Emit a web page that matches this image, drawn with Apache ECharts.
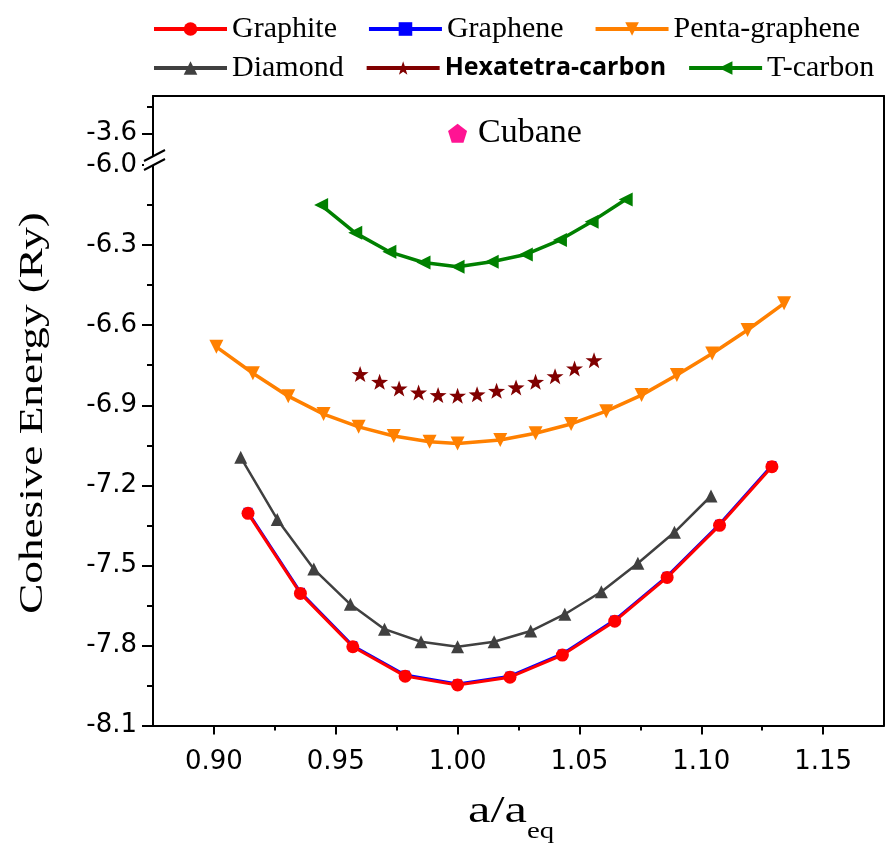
<!DOCTYPE html>
<html>
<head>
<meta charset="utf-8">
<title>Cohesive energy vs a/a_eq</title>
<script src="https://cdn.jsdelivr.net/npm/echarts@6/dist/echarts.min.js"></script>
<style>
  html, body { margin: 0; padding: 0; background: #fff; }
  #chart { width: 886px; height: 847px; }
</style>
</head>
<body>
<div id="chart"></div>
<script>
// x = a/a_eq, y = cohesive energy (Ry)
const graphiteX = [0.914, 0.9355, 0.957, 0.9785, 1.0, 1.0215, 1.043, 1.0645, 1.086, 1.1075, 1.129];
const graphiteY = [-7.305, -7.605, -7.805, -7.915, -7.948, -7.919, -7.836, -7.709, -7.545, -7.350, -7.130];
const grapheneX = [0.914, 0.9355, 0.957, 0.9785, 1.0, 1.0215, 1.043, 1.0645, 1.086, 1.1075, 1.129];
const grapheneY = [-7.301, -7.601, -7.801, -7.911, -7.944, -7.915, -7.832, -7.705, -7.541, -7.346, -7.126];
const pentaX = [0.901, 0.916, 0.9305, 0.945, 0.9594, 0.9738, 0.9885, 1.0, 1.0175, 1.032, 1.0466, 1.061, 1.0755, 1.090, 1.1045, 1.119, 1.134];
const pentaY = [-6.681, -6.780, -6.866, -6.933, -6.981, -7.015, -7.037, -7.043, -7.030, -7.005, -6.970, -6.922, -6.862, -6.787, -6.706, -6.618, -6.518];
const diamondX = [0.911, 0.926, 0.941, 0.956, 0.970, 0.985, 1.0, 1.015, 1.030, 1.044, 1.059, 1.074, 1.089, 1.104];
const diamondY = [-7.095, -7.328, -7.514, -7.646, -7.739, -7.786, -7.805, -7.786, -7.746, -7.683, -7.599, -7.492, -7.376, -7.240];
const hexaX = [0.960, 0.968, 0.976, 0.984, 0.992, 1.0, 1.008, 1.016, 1.024, 1.032, 1.040, 1.048, 1.056];
const hexaY = [-6.783, -6.812, -6.837, -6.852, -6.862, -6.864, -6.859, -6.846, -6.833, -6.812, -6.791, -6.762, -6.731];
const tcarbonX = [0.944, 0.958, 0.972, 0.986, 1.0, 1.014, 1.028, 1.042, 1.055, 1.069];
const tcarbonY = [-6.150, -6.254, -6.325, -6.365, -6.381, -6.362, -6.335, -6.281, -6.212, -6.129];
const cubaneX = [1.0];
const cubaneY = [-3.6];

// axis ticks
const xMajor = [0.90, 0.95, 1.00, 1.05, 1.10, 1.15];
const xMinor = [0.925, 0.975, 1.025, 1.075, 1.125];
const yMajor = [-8.1, -7.8, -7.5, -7.2, -6.9, -6.6, -6.3, -6.0];
const yMinor = [-7.95, -7.65, -7.35, -7.05, -6.75, -6.45, -6.15];
const yTopMajor = [-3.6];
const yTopMinor = [-3.5];

const pairs = (xs, ys) => xs.map((x, i) => [x, ys[i]]);

const starPath = 'path://M0,-10 L2.35,-3.24 L9.51,-3.09 L3.80,1.24 L5.88,8.09 L0,4 L-5.88,8.09 L-3.80,1.24 L-9.51,-3.09 L-2.35,-3.24 Z';
const pentagonPath = 'path://M0,-10 L9.51,-3.09 L5.88,8.09 L-5.88,8.09 L-9.51,-3.09 Z';

const tickFont = { fontFamily: 'DejaVu Sans', fontSize: 26, color: '#000' };
const blackLine = { lineStyle: { color: '#000', width: 2 } };

const chart = echarts.init(document.getElementById('chart'), null, { renderer: 'canvas' });

const option = {
  animation: false,
  backgroundColor: '#fff',
  legend: [
    {
      data: ['Graphite', 'Graphene', 'Penta-graphene'],
      left: 152, top: 14, padding: 0,
      itemWidth: 73, itemHeight: 17, itemGap: 30,
      selectedMode: false,
      lineStyle: { width: 4 },
      textStyle: { fontFamily: 'Liberation Serif', fontSize: 30, color: '#000' }
    },
    {
      data: [
        'Diamond',
        {
          name: 'Hexatetra-carbon',
          lineStyle: { color: '#800000', opacity: 1, width: 4 },
          textStyle: { fontFamily: 'Open Sans', fontWeight: 'bold', fontSize: 25, color: '#000' }
        },
        'T-carbon'
      ],
      left: 152, top: 53, padding: 0,
      itemWidth: 73, itemHeight: 17, itemGap: 21,
      selectedMode: false,
      lineStyle: { width: 4 },
      textStyle: { fontFamily: 'Liberation Serif', fontSize: 30, color: '#000' }
    }
  ],
  grid: [
    { left: 153, right: 2, top: 96, height: 56 },
    { left: 153, right: 2, top: 152, bottom: 121.5 }
  ],
  xAxis: [
    {
      type: 'value', gridIndex: 1, position: 'bottom', min: 0.875, max: 1.175,
      axisLine: blackLine,
      axisTick: { customValues: xMajor, length: 9, lineStyle: { color: '#000', width: 2 } },
      axisLabel: Object.assign({ customValues: xMajor, margin: 24, formatter: v => v.toFixed(2) }, tickFont),
      splitLine: { show: false }
    },
    {
      type: 'value', gridIndex: 1, position: 'bottom', min: 0.875, max: 1.175,
      axisLine: { show: false },
      axisTick: { customValues: xMinor, length: 5, lineStyle: { color: '#000', width: 2 } },
      axisLabel: { show: false },
      splitLine: { show: false }
    },
    {
      type: 'value', gridIndex: 0, position: 'top', min: 0.875, max: 1.175,
      axisLine: blackLine,
      axisTick: { show: false },
      axisLabel: { show: false },
      splitLine: { show: false }
    }
  ],
  yAxis: [
    {
      type: 'value', gridIndex: 1, position: 'left', min: -8.1, max: -5.951,
      axisLine: blackLine,
      axisTick: { customValues: yMajor, length: 11, lineStyle: { color: '#000', width: 2 } },
      axisLabel: Object.assign({ customValues: yMajor, margin: 16, formatter: v => v.toFixed(1) }, tickFont),
      splitLine: { show: false }
    },
    {
      type: 'value', gridIndex: 1, position: 'left', min: -8.1, max: -5.951,
      axisLine: { show: false },
      axisTick: { customValues: yMinor, length: 6, lineStyle: { color: '#000', width: 2 } },
      axisLabel: { show: false },
      splitLine: { show: false }
    },
    {
      type: 'value', gridIndex: 1, position: 'right', min: -8.1, max: -5.951,
      axisLine: blackLine,
      axisTick: { show: false },
      axisLabel: { show: false },
      splitLine: { show: false }
    },
    {
      type: 'value', gridIndex: 0, position: 'left', min: -3.67, max: -3.46,
      axisLine: blackLine,
      axisTick: { customValues: yTopMajor, length: 11, lineStyle: { color: '#000', width: 2 } },
      axisLabel: Object.assign({ customValues: yTopMajor, margin: 16, formatter: v => v.toFixed(1) }, tickFont),
      splitLine: { show: false }
    },
    {
      type: 'value', gridIndex: 0, position: 'left', min: -3.67, max: -3.46,
      axisLine: { show: false },
      axisTick: { customValues: yTopMinor, length: 6, lineStyle: { color: '#000', width: 2 } },
      axisLabel: { show: false },
      splitLine: { show: false }
    },
    {
      type: 'value', gridIndex: 0, position: 'right', min: -3.67, max: -3.46,
      axisLine: blackLine,
      axisTick: { show: false },
      axisLabel: { show: false },
      splitLine: { show: false }
    }
  ],
  series: [
    {
      name: 'Graphene', type: 'line', xAxisIndex: 0, yAxisIndex: 0,
      data: pairs(grapheneX, grapheneY),
      symbol: 'rect', symbolSize: 9,
      itemStyle: { color: '#0000ff' },
      lineStyle: { color: '#0000ff', width: 3 }
    },
    {
      name: 'Graphite', type: 'line', xAxisIndex: 0, yAxisIndex: 0,
      data: pairs(graphiteX, graphiteY),
      symbol: 'circle', symbolSize: 13,
      itemStyle: { color: '#ff0000' },
      lineStyle: { color: '#ff0000', width: 3 }
    },
    {
      name: 'Penta-graphene', type: 'line', xAxisIndex: 0, yAxisIndex: 0,
      data: pairs(pentaX, pentaY),
      symbol: 'triangle', symbolRotate: 180, symbolSize: 14,
      itemStyle: { color: '#ff8000' },
      lineStyle: { color: '#ff8000', width: 3.5 }
    },
    {
      name: 'Diamond', type: 'line', xAxisIndex: 0, yAxisIndex: 0,
      data: pairs(diamondX, diamondY),
      symbol: 'triangle', symbolSize: 13,
      itemStyle: { color: '#404040' },
      lineStyle: { color: '#404040', width: 2.5 }
    },
    {
      name: 'Hexatetra-carbon', type: 'line', xAxisIndex: 0, yAxisIndex: 0,
      data: pairs(hexaX, hexaY),
      symbol: starPath, symbolSize: [17, 16],
      itemStyle: { color: '#800000' },
      lineStyle: { color: '#800000', opacity: 0 }
    },
    {
      name: 'T-carbon', type: 'line', xAxisIndex: 0, yAxisIndex: 0,
      data: pairs(tcarbonX, tcarbonY),
      symbol: 'triangle', symbolRotate: 90, symbolSize: 14,
      itemStyle: { color: '#008000' },
      lineStyle: { color: '#008000', width: 3.5 }
    },
    {
      name: 'Cubane', type: 'scatter', xAxisIndex: 2, yAxisIndex: 3,
      data: pairs(cubaneX, cubaneY),
      symbol: pentagonPath, symbolSize: 19,
      itemStyle: { color: '#ff1493', opacity: 1 },
      label: {
        show: true, position: 'right', distance: 11,
        formatter: 'Cubane',
        fontFamily: 'Liberation Serif', fontSize: 34, color: '#000'
      }
    }
  ],
  graphic: [
    // axis break mark on the left axis
    {
      type: 'polygon', silent: true, z: 100,
      shape: { points: [[144, 161], [165, 150], [165, 159], [144, 170]] },
      style: { fill: '#fff', stroke: null }
    },
    {
      type: 'line', silent: true, z: 101,
      shape: { x1: 144, y1: 161, x2: 165, y2: 150 },
      style: { stroke: '#000', lineWidth: 2 }
    },
    {
      type: 'line', silent: true, z: 101,
      shape: { x1: 144, y1: 170, x2: 165, y2: 159 },
      style: { stroke: '#000', lineWidth: 2 }
    },
    // axis titles
    {
      type: 'text', silent: true,
      x: 33, y: 413, rotation: Math.PI / 2, scaleX: 1.33,
      style: {
        text: 'Cohesive Energy (Ry)', fontFamily: 'Liberation Serif', fontSize: 34,
        fill: '#000', align: 'center', verticalAlign: 'middle'
      }
    },
    {
      type: 'text', silent: true,
      x: 468, y: 812, scaleX: 1.33,
      style: {
        text: 'a/a', fontFamily: 'Liberation Serif', fontSize: 38,
        fill: '#000', align: 'left', verticalAlign: 'middle'
      }
    },
    {
      type: 'text', silent: true,
      x: 527, y: 832, scaleX: 1.2,
      style: {
        text: 'eq', fontFamily: 'Liberation Serif', fontSize: 24,
        fill: '#000', align: 'left', verticalAlign: 'middle'
      }
    }
  ]
};

chart.setOption(option);
</script>
</body>
</html>
